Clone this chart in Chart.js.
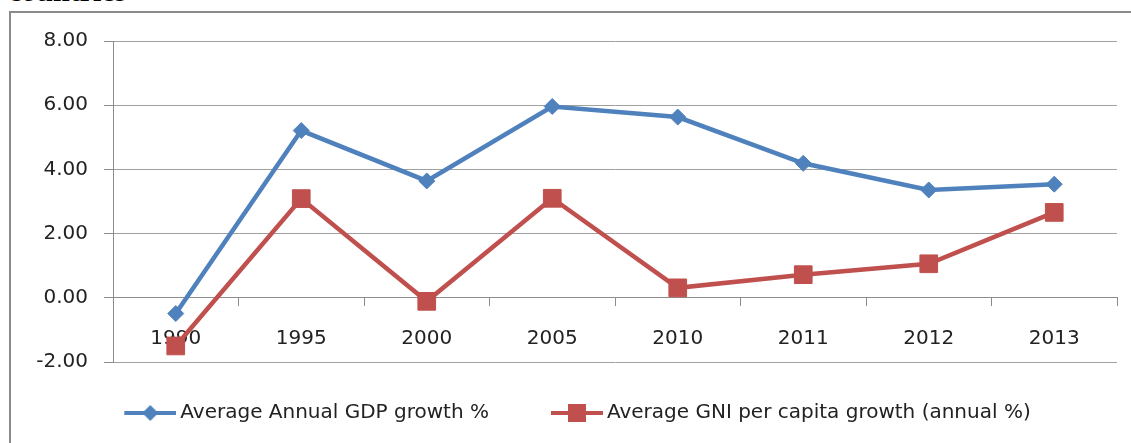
<!DOCTYPE html>
<html>
<head>
<meta charset="utf-8">
<script src="https://cdn.jsdelivr.net/npm/chart.js@4/dist/chart.umd.min.js"></script>
<style>
    html, body { margin: 0; padding: 0; background: #fff; width: 1131px; height: 443px; overflow: hidden; }
    .caption { position: absolute; left: 8px; top: -24px; font: bold 30px "Liberation Serif", serif; line-height: 30px; color: #000; white-space: nowrap; }
    .frame { position: absolute; left: 9px; top: 11px; width: 1137px; height: 445px; border: 2px solid #8a8a8a; box-sizing: border-box; background: #fff; }
    .frame canvas { display: block; }
</style>
</head>
<body>
<div class="caption">countries</div>
<div class="frame"><canvas id="growth-chart" width="1133" height="441"></canvas></div>
<script>
// values
const years = ["1990", "1995", "2000", "2005", "2010", "2011", "2012", "2013"];
const gdpGrowth = [-0.49, 5.21, 3.64, 5.96, 5.63, 4.19, 3.36, 3.54];
const gniGrowth = [-1.50, 3.09, -0.11, 3.10, 0.31, 0.72, 1.06, 2.66];
const seriesNames = ["Average Annual GDP growth %", "Average GNI per capita growth (annual %)"];
const yTicks = [-2, 0, 2, 4, 6, 8];

const BLUE = "#4F81BD";
const RED = "#C0504D";
const FONT = { family: "DejaVu Sans", size: 20 };

// little line + marker sample for the legend (Excel style)
function legendSample(color, shape) {
    let c = document.createElement("canvas");
    c.width = 79;
    c.height = 24;
    let ctx = c.getContext("2d");
    ctx.strokeStyle = color;
    ctx.fillStyle = color;
    ctx.lineWidth = 4;
    ctx.beginPath();
    ctx.moveTo(27, 12);
    ctx.lineTo(79, 12);
    ctx.stroke();
    ctx.beginPath();
    if (shape == "diamond") {
        ctx.moveTo(53, 4); ctx.lineTo(61, 12); ctx.lineTo(53, 20); ctx.lineTo(45, 12);
    } else {
        ctx.rect(44, 3, 18, 18);
    }
    ctx.closePath();
    ctx.fill();
    return c;
}
const samples = [legendSample(BLUE, "diamond"), legendSample(RED, "square")];

let chart = new Chart(document.querySelector("#growth-chart"), {
    type: "line",
    data: {
        labels: years,
        datasets: [{
            label: seriesNames[0],
            data: gdpGrowth,
            borderColor: BLUE,
            backgroundColor: BLUE,
            borderWidth: 4.5,
            pointStyle: "rectRot",
            pointRadius: 8,
            pointBorderWidth: 1,
            tension: 0
        }, {
            label: seriesNames[1],
            data: gniGrowth,
            borderColor: RED,
            backgroundColor: RED,
            borderWidth: 4.5,
            pointStyle: "rect",
            pointRadius: 12.5,
            pointBorderWidth: 1,
            tension: 0
        }]
    },
    options: {
        responsive: false,
        animation: false,
        devicePixelRatio: 1,
        layout: { padding: { left: 6, right: 27, top: 26, bottom: 21 } },
        scales: {
            x: {
                type: "category",
                position: { y: 0 },
                offset: true,
                grid: { offset: true, drawOnChartArea: false, tickLength: 8, color: "#8c8c8c" },
                border: { color: "#8c8c8c" },
                ticks: { font: FONT, color: "#222", padding: 21, maxRotation: 0 }
            },
            y: {
                min: -2,
                max: 8,
                afterFit: s => { s.width = 96; },
                afterBuildTicks: s => { s.ticks = yTicks.map(v => ({ value: v })); },
                grid: { color: "#a0a0a0", tickLength: 9, tickColor: "#8c8c8c" },
                border: { color: "#8c8c8c" },
                ticks: { font: FONT, color: "#222", padding: 16, callback: v => v.toFixed(2) }
            }
        },
        plugins: {
            tooltip: { enabled: false },
            legend: {
                position: "bottom",
                labels: {
                    usePointStyle: true,
                    pointStyleWidth: 67,
                    padding: 41,
                    font: FONT,
                    color: "#222",
                    generateLabels: ch => ch.data.datasets.map((ds, i) => ({
                        text: ds.label,
                        pointStyle: samples[i],
                        fillStyle: ds.borderColor,
                        strokeStyle: ds.borderColor,
                        fontColor: "#222",
                        lineWidth: 0,
                        datasetIndex: i
                    }))
                }
            }
        }
    }
});
</script>
</body>
</html>
